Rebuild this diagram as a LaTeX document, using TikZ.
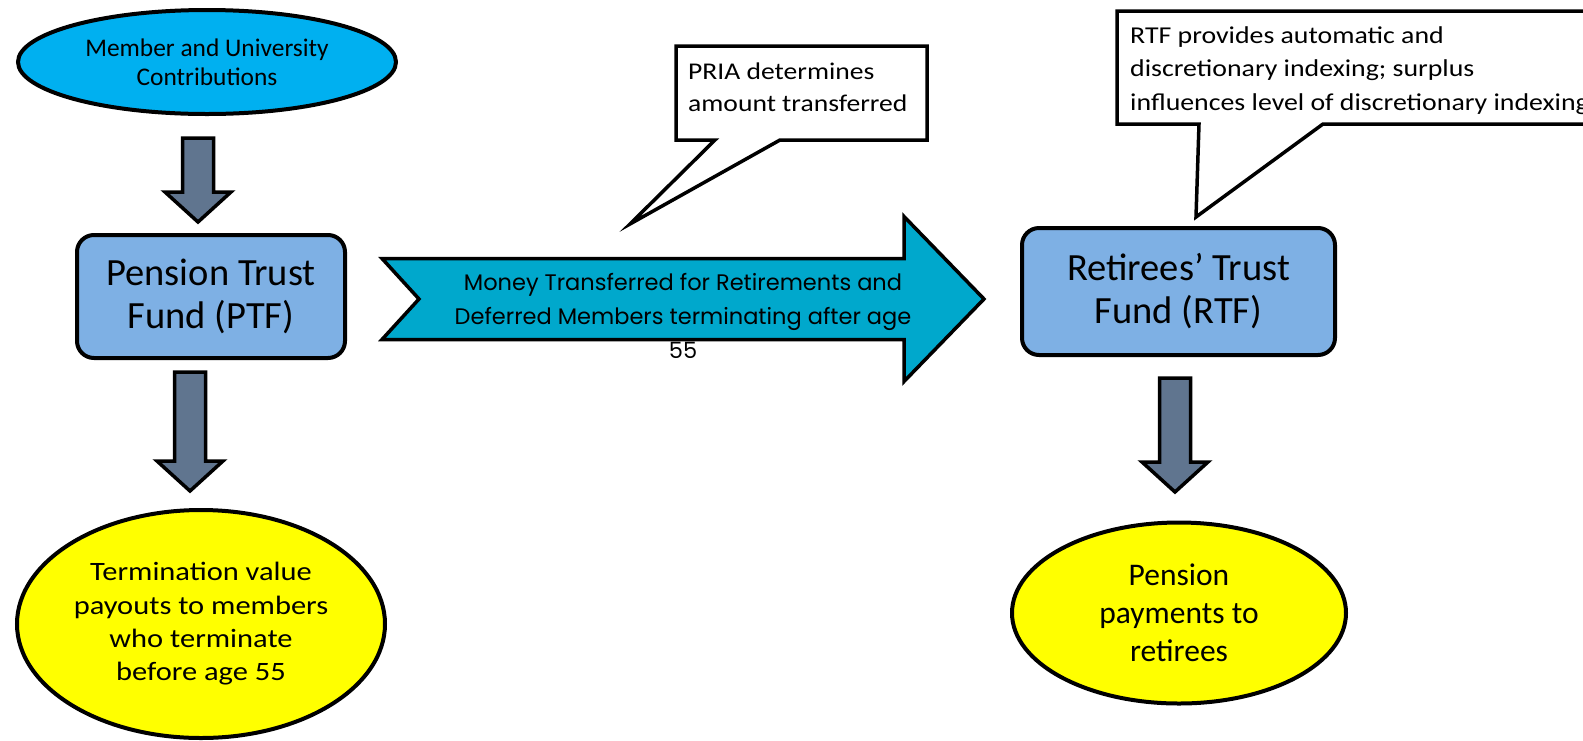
\documentclass[tikz,border=0pt]{standalone}
\usepackage{fontspec}
\setmainfont{Carlito}
\newfontfamily\widefont{Carlito}[FakeStretch=1.15]
\newfontfamily\gothicfont{Poppins}
\usetikzlibrary{shapes.geometric,calc}

\definecolor{contribcyan}{RGB}{0,176,240}
\definecolor{fundblue}{RGB}{126,176,228}
\definecolor{moneycyan}{RGB}{0,168,204}
\definecolor{slate}{RGB}{96,117,143}
\definecolor{payyellow}{RGB}{255,255,0}

\tikzset{
  fundbox/.style={draw, line width=4pt, rounded corners=17pt, fill=fundblue,
    minimum width=268pt, minimum height=123pt, align=center,
    font=\fontsize{38.5}{43}\selectfont},
  sourceoval/.style={ellipse, draw, line width=4pt, fill=contribcyan,
    minimum width=378pt, minimum height=104pt, align=center, inner sep=0pt,
    font=\fontsize{25.4}{29}\selectfont},
  payoval/.style={ellipse, draw, line width=4pt, fill=payyellow,
    align=center, inner sep=0pt},
  notetext/.style={anchor=north west, align=left, inner sep=0pt},
  callout/.style={draw, line width=3.5pt, fill=white},
  flowtext/.style={align=center, inner sep=0pt,
    font=\gothicfont\fontsize{22.5}{34}\selectfont},
  blockdown/.style={draw, line width=3.5pt, fill=slate,
    to path={let \p1=(\tikztostart), \p2=(\tikztotarget) in
      (\x1-15.5pt,\y1) -- (\x1+15.5pt,\y1) -- (\x1+15.5pt,\y2+30pt)
      -- (\x1+33pt,\y2+30pt) -- (\x1,\y2) -- (\x1-33pt,\y2+30pt)
      -- (\x1-15.5pt,\y2+30pt) -- cycle}},
  blockright/.style={draw, line width=3.5pt, fill=moneycyan,
    to path={let \p1=(\tikztostart), \p2=(\tikztotarget) in
      (\x1,\y1+40.5pt) -- (\x2-80pt,\y1+40.5pt) -- (\x2-80pt,\y1+82.5pt)
      -- (\x2,\y1) -- (\x2-80pt,\y1-82.5pt) -- (\x2-80pt,\y1-40.5pt)
      -- (\x1,\y1-40.5pt) -- (\x1+37pt,\y1) -- cycle}},
}

\begin{document}
\begin{tikzpicture}[x=1pt, y=-1pt]
\useasboundingbox (0,0) rectangle (1583,740);
\clip (0,0) rectangle (1583,740);

% funds
\node[sourceoval] (contrib) at (207,62) {Member and University\\Contributions};
\node[fundbox] (ptf) at (211,296.5) {Pension Trust\\Fund (PTF)};
\node[fundbox, minimum width=313pt, minimum height=127pt] (rtf) at (1178.5,291.5) {Retirees’ Trust\\Fund (RTF)};
\node[payoval, minimum width=368pt, minimum height=228pt,
  font=\widefont\fontsize{26.5}{33.3}\selectfont] (termpay) at (201,624)
  {Termination value\\payouts to members\\who terminate\\before age 55};
\node[payoval, minimum width=334pt, minimum height=181pt,
  font=\fontsize{31.5}{38}\selectfont] (penpay) at (1179,613)
  {Pension\\payments to\\retirees};

% block arrows
\coordinate (a1top) at (198,138);
\coordinate (a1tip) at (198,222);
\coordinate (a2top) at (190,372);
\coordinate (a2tip) at (190,491);
\coordinate (a3top) at (1175,378);
\coordinate (a3tip) at (1175,492);
\draw[blockdown] (a1top) to (a1tip);
\draw[blockdown] (a2top) to (a2tip);
\draw[blockdown] (a3top) to (a3tip);

\coordinate (mtstart) at (382,299);
\coordinate (mtend) at (984,299);
\draw[blockright] (mtstart) to (mtend);
\node[flowtext] (moneytxt) at (683,316) {Money Transferred for Retirements and\\Deferred Members terminating after age\\55};

% callouts
\coordinate (priatip) at (630,224);
\draw[callout] (676,46) -- (927,46) -- (927,140) -- (780,140) -- (priatip) -- (715,140) -- (676,140) -- cycle;
\node[notetext, font=\widefont\fontsize{24}{32}\selectfont] (pria) at (688,63) {PRIA determines\\amount transferred};

\coordinate (rtftip) at (1196,217);
\draw[callout] (1117,11) -- (1700,11) -- (1700,124) -- (1323,124) -- (rtftip) -- (1199,124) -- (1117,124) -- cycle;
\node[notetext, font=\widefont\fontsize{24.2}{33.5}\selectfont] (rtfnote) at (1130,26) {RTF provides automatic and\\discretionary indexing; surplus\\influences level of discretionary indexing};

\end{tikzpicture}
\end{document}
